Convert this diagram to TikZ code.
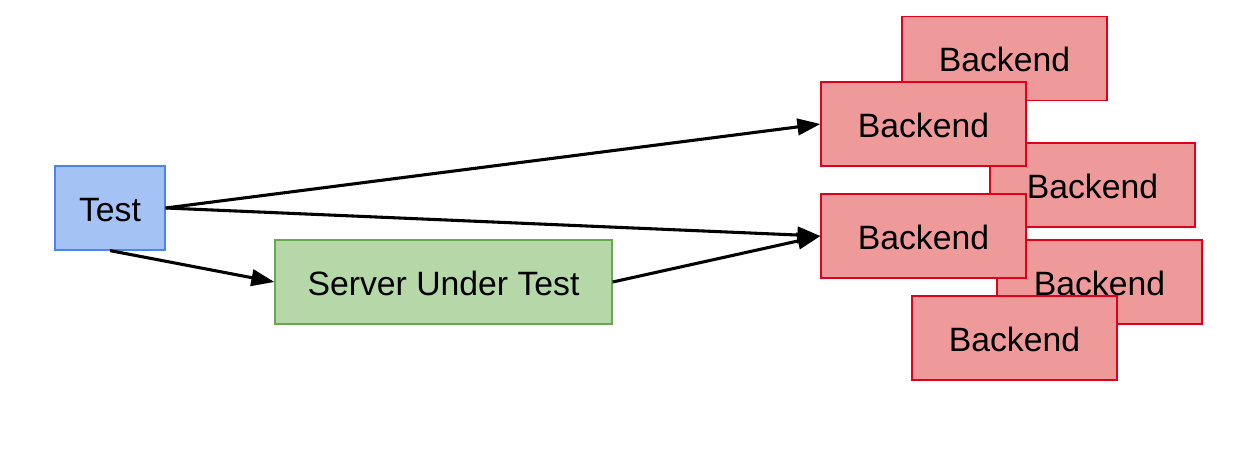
\documentclass[tikz,border=0pt]{standalone}
\usepackage{fontspec}
\setmainfont{Liberation Sans}
\usepackage{xcolor}
\usetikzlibrary{arrows.meta}
\definecolor{testfill}{HTML}{A4C2F4}
\definecolor{testline}{HTML}{4A86E8}
\definecolor{sutfill}{HTML}{B6D7A8}
\definecolor{sutline}{HTML}{6AA84F}
\definecolor{backfill}{HTML}{EF9A9A}
\definecolor{backline}{HTML}{E0001A}
\tikzset{
  boxtext/.style={font=\fontsize{19.2}{22}\selectfont,
                  text height=0.64cm, text depth=0.1cm},
  testbox/.style={draw=testline, fill=testfill, line width=0.7pt,
                  minimum width=2.2cm, minimum height=1.68cm, inner sep=0pt,
                  boxtext},
  sutbox/.style={draw=sutline, fill=sutfill, line width=0.7pt,
                 minimum width=6.74cm, minimum height=1.68cm, inner sep=0pt,
                 boxtext},
  backbox/.style={draw=backline, fill=backfill, line width=0.7pt,
                  minimum width=4.1cm, minimum height=1.68cm, inner sep=0pt,
                  boxtext},
  arr/.style={-{Triangle[length=0.46cm, width=0.33cm]}, line width=1.75pt},
}
\begin{document}
\begin{tikzpicture}
\useasboundingbox (0,0) rectangle (25,-8.98);
% ---- left side ----
\node[testbox] (test) at (2.2,-4.16) {Test};
\node[sutbox] (sut) at (8.87,-5.64) {Server Under Test};
% ---- backend pile (drawn back to front) ----
\node[backbox] (back1) at (20.09,-1.17) {Backend};
\node[backbox] (back3) at (21.85,-3.70) {Backend};
\node[backbox] (back5) at (21.99,-5.64) {Backend};
\node[backbox] (back2) at (18.47,-2.48) {Backend};
\node[backbox] (back4) at (18.47,-4.72) {Backend};
\node[backbox] (back6) at (20.29,-6.76) {Backend};
% ---- arrows ----
\draw[arr] (test.east) -- (back2.west);
\draw[arr] (test.east) -- (back4.west);
\draw[arr] (test.south) -- (sut.west);
\draw[arr] (sut.east) -- (back4.west);
\end{tikzpicture}
\end{document}
